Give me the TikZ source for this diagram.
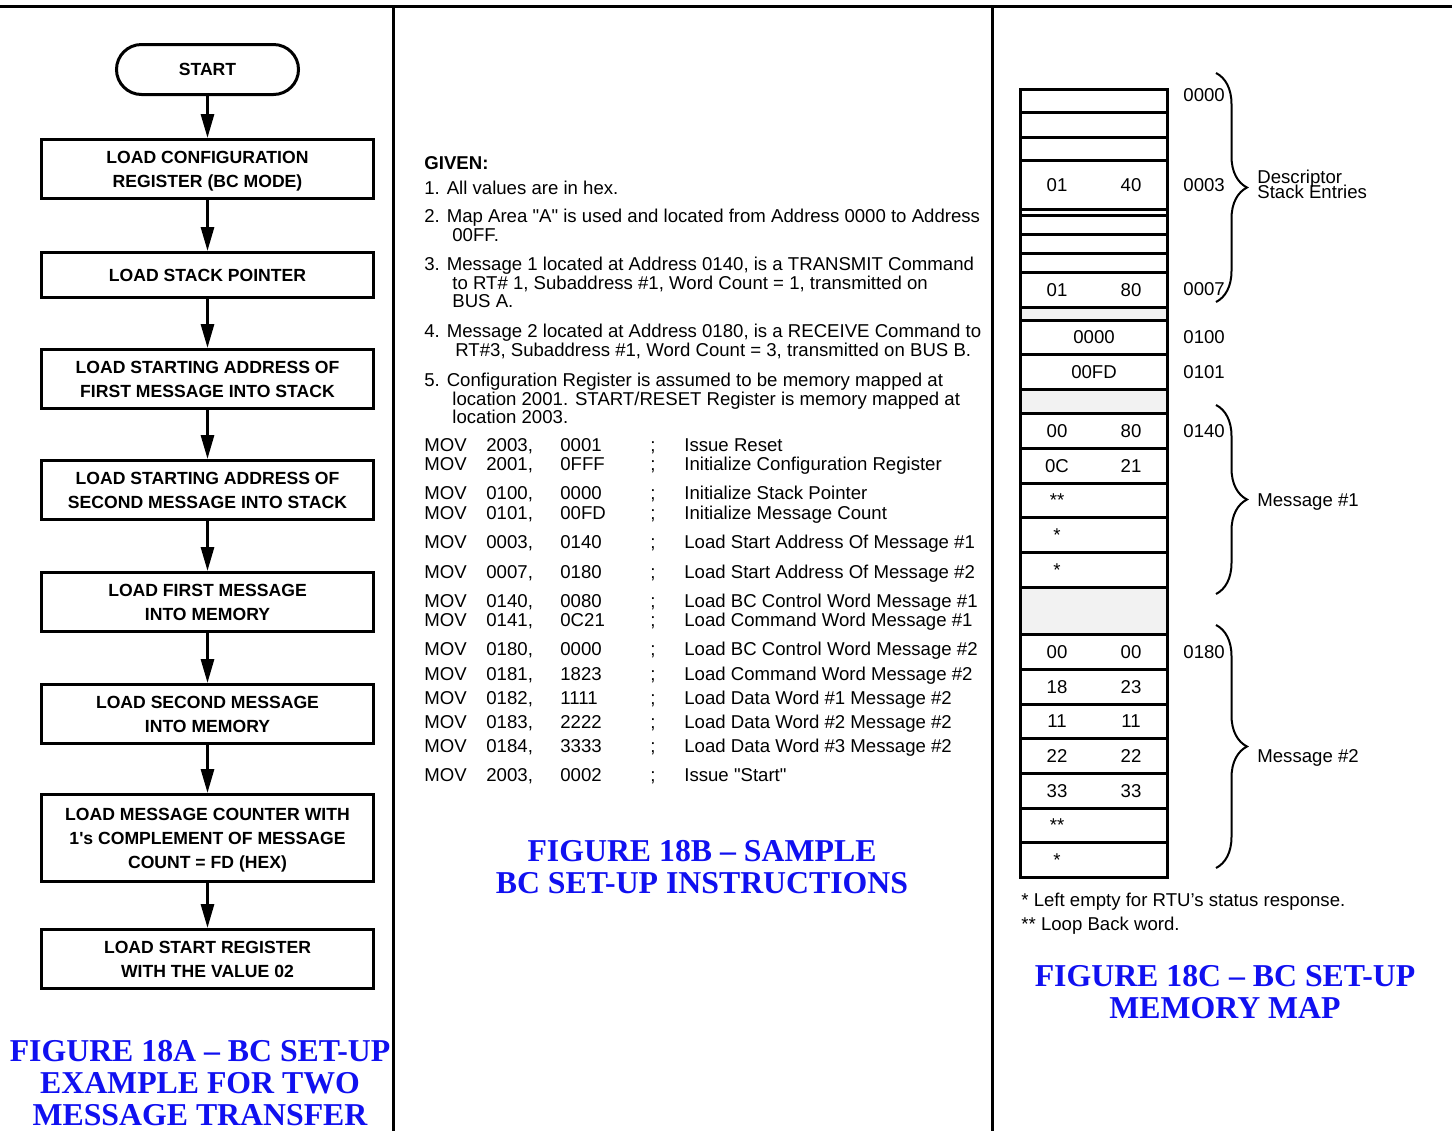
\documentclass[tikz,border=0pt]{standalone}
\usepackage{fontspec}
\setmainfont{Liberation Sans}
\newfontfamily\capfont{Liberation Serif}
\newfontfamily\plainsans{Liberation Sans}
\usepackage{tikz}
\usetikzlibrary{arrows.meta, positioning, decorations.pathreplacing}
\definecolor{capblue}{RGB}{16, 16, 240}
\definecolor{gapgrey}{RGB}{242, 242, 242}

\begin{document}
\begin{tikzpicture}[x=0.5pt, y=-0.5pt,
    flowbox/.style={rectangle, draw, line width=1.5pt, minimum width=166pt, minimum height=29.5pt, inner sep=0pt, text depth=0pt, align=center, font=\fontsize{8.8}{12}\selectfont\bfseries},
    arrow/.style={-{Triangle[length=12pt, width=6.5pt]}, line width=1.5pt},
    divider/.style={line width=1.5pt},
    figcap/.style={anchor=base, align=center, inner sep=0pt, text=capblue, font=\capfont\bfseries\fontsize{15.9}{16}\selectfont},
    given/.style={anchor=base west, align=left, inner sep=0pt, font=\fontsize{9.3}{9.25}\selectfont},
    memcell/.style={draw, line width=1.5pt},
    celltxt/.style={anchor=base, inner sep=0pt, yshift=-3.3pt, font=\fontsize{9.3}{10}\selectfont},
    addrtxt/.style={celltxt, anchor=base west},
    brc/.style={decorate, decoration={brace, amplitude=15.5pt}, line width=1pt}
]
\useasboundingbox (0,0) rectangle (1452,1131);

% page rules
\draw[divider] (0,6.5) -- (1452,6.5);
\draw[divider] (393,6.5) -- (393,1131);
\draw[divider] (992,6.5) -- (992,1131);

% figure 18A: flow chart
\node (start) [flowbox, minimum width=91pt, minimum height=25pt, rounded corners=12.5pt] at (207.5,69.5) {START};
\node (cfgreg) [flowbox, below=21pt of start] {LOAD CONFIGURATION\\REGISTER (BC MODE)};
\node (stkptr) [flowbox, below=25.5pt of cfgreg, minimum height=22.5pt] {LOAD STACK POINTER};
\node (firstaddr) [flowbox, below=24.5pt of stkptr] {LOAD STARTING ADDRESS OF\\FIRST MESSAGE INTO STACK};
\node (secondaddr) [flowbox, below=24.5pt of firstaddr] {LOAD STARTING ADDRESS OF\\SECOND MESSAGE INTO STACK};
\node (firstmsg) [flowbox, below=25pt of secondaddr] {LOAD FIRST MESSAGE\\INTO MEMORY};
\node (secondmsg) [flowbox, below=25pt of firstmsg] {LOAD SECOND MESSAGE\\INTO MEMORY};
\node (msgcount) [flowbox, below=24pt of secondmsg, minimum height=43.5pt] {LOAD MESSAGE COUNTER WITH\\1{\plainsans'}s COMPLEMENT OF MESSAGE\\COUNT = FD (HEX)};
\node (startreg) [flowbox, below=22.5pt of msgcount] {LOAD START REGISTER\\WITH THE VALUE 02};

\draw [arrow] (start) -- (cfgreg);
\draw [arrow] (cfgreg) -- (stkptr);
\draw [arrow] (stkptr) -- (firstaddr);
\draw [arrow] (firstaddr) -- (secondaddr);
\draw [arrow] (secondaddr) -- (firstmsg);
\draw [arrow] (firstmsg) -- (secondmsg);
\draw [arrow] (secondmsg) -- (msgcount);
\draw [arrow] (msgcount) -- (startreg);

\node (capA) [figcap] at (200,1125) {FIGURE 18A – BC SET-UP\\EXAMPLE FOR TWO\\MESSAGE TRANSFER};

% figure 18B: instructions
\node (given) [given, font=\fontsize{9.3}{9.25}\selectfont\bfseries] at (424,169.5) {GIVEN:};
\node (item1) [given] at (424,194.5) {1. All values are in hex.};
\node (item2) [given] at (424,241) {2. Map Area {\plainsans"}A{\plainsans"} is used and located from Address 0000 to Address\\\hspace*{14pt}00FF.};
\node (item3) [given] at (424,307.5) {3. Message 1 located at Address 0140, is a TRANSMIT Command\\\hspace*{14pt}to RT\# 1, Subaddress \#1, Word Count = 1, transmitted on\\\hspace*{14pt}BUS A.};
\node (item4) [given] at (424,356) {4. Message 2 located at Address 0180, is a RECEIVE Command to\\\hspace*{15.5pt}RT\#3, Subaddress \#1, Word Count = 3, transmitted on BUS B.};
\node (item5) [given] at (424,423.5) {5. Configuration Register is assumed to be memory mapped at\\\hspace*{14pt}location 2001. START/RESET Register is memory mapped at\\\hspace*{14pt}location 2003.};

\node (movlist) [given, font=\fontsize{9.3}{9.5}\selectfont] at (424,451.5) {%
\begin{tabular}[t]{@{}p{31pt}@{}p{37pt}@{}p{45pt}@{}p{17pt}@{}l@{}}
MOV & 2003, & 0001 & ; & Issue Reset \\
MOV & 2001, & 0FFF & ; & Initialize Configuration Register \\[5pt]
MOV & 0100, & 0000 & ; & Initialize Stack Pointer \\
MOV & 0101, & 00FD & ; & Initialize Message Count \\[5pt]
MOV & 0003, & 0140 & ; & Load Start Address Of Message \#1 \\[5.5pt]
MOV & 0007, & 0180 & ; & Load Start Address Of Message \#2 \\[5pt]
MOV & 0140, & 0080 & ; & Load BC Control Word Message \#1 \\
MOV & 0141, & 0C21 & ; & Load Command Word Message \#1 \\[5pt]
MOV & 0180, & 0000 & ; & Load BC Control Word Message \#2 \\[2.5pt]
MOV & 0181, & 1823 & ; & Load Command Word Message \#2 \\[2.5pt]
MOV & 0182, & 1111 & ; & Load Data Word \#1 Message \#2 \\[2.5pt]
MOV & 0183, & 2222 & ; & Load Data Word \#2 Message \#2 \\[2.5pt]
MOV & 0184, & 3333 & ; & Load Data Word \#3 Message \#2 \\[5pt]
MOV & 2003, & 0002 & ; & Issue {\plainsans"}Start{\plainsans"}
\end{tabular}};

\node (capB) [figcap] at (702,893) {FIGURE 18B – SAMPLE\\BC SET-UP INSTRUCTIONS};

% figure 18C: memory map
\fill[gapgrey] (1020,307) rectangle (1167,320);
\fill[gapgrey] (1020,389) rectangle (1167,413);
\fill[gapgrey] (1020,587) rectangle (1167,634);
\draw[memcell] (1020,89) rectangle (1167,877);
\foreach \yy in {112,137,160,209,215,234,253,272,307,320,354,389,413,448,483,517,552,587,634,669,704,738,773,808,842}
    \draw[memcell] (1020,\yy) -- (1167,\yy);

\foreach \yy/\lo/\hi [count=\i] in {184.5/01/40, 289.5/01/80, 430.5/00/80, 465.5/0C/21, 651.5/00/00, 686.5/18/23, 721/11/11, 755.5/22/22, 790.5/33/33} {
    \node (lo\i) [celltxt] at (1057,\yy) {\lo};
    \node (hi\i) [celltxt] at (1131,\yy) {\hi};
}
\node (stkval) [celltxt] at (1094,337) {0000};
\node (cntval) [celltxt] at (1094,371.5) {00FD};
\node (loopA) [celltxt] at (1057,500) {**};
\node (statA) [celltxt] at (1057,534.5) {*};
\node (statB) [celltxt] at (1057,569.5) {*};
\node (loopB) [celltxt] at (1057,825) {**};
\node (statC) [celltxt] at (1057,859.5) {*};

\node (ad0000) [addrtxt] at (1183,95) {0000};
\node (ad0003) [addrtxt] at (1183,185) {0003};
\node (ad0007) [addrtxt] at (1183,289) {0007};
\node (ad0100) [addrtxt] at (1183,337) {0100};
\node (ad0101) [addrtxt] at (1183,372) {0101};
\node (ad0140) [addrtxt] at (1183,431) {0140};
\node (ad0180) [addrtxt] at (1183,652) {0180};

\coordinate (dsTop) at (1216,73);
\coordinate (dsBot) at (1216,302);
\coordinate (m1Top) at (1216,405);
\coordinate (m1Bot) at (1216,594);
\coordinate (m2Top) at (1216,625);
\coordinate (m2Bot) at (1216,868);
\draw[brc] (dsTop) -- (dsBot);
\draw[brc] (m1Top) -- (m1Bot);
\draw[brc] (m2Top) -- (m2Bot);

\node (descA) [addrtxt] at (1257,177) {Descriptor};
\node (descB) [addrtxt] at (1257,192) {Stack Entries};
\node (msg1) [addrtxt] at (1257,500) {Message \#1};
\node (msg2) [addrtxt] at (1257,756) {Message \#2};

\node (noteA) [addrtxt] at (1021,900) {* Left empty for RTU's status response.};
\node (noteB) [addrtxt] at (1021,924) {** Loop Back word.};

\node (capC) [figcap] at (1225,1018) {FIGURE 18C – BC SET-UP\\MEMORY MAP};
\end{tikzpicture}
\end{document}
